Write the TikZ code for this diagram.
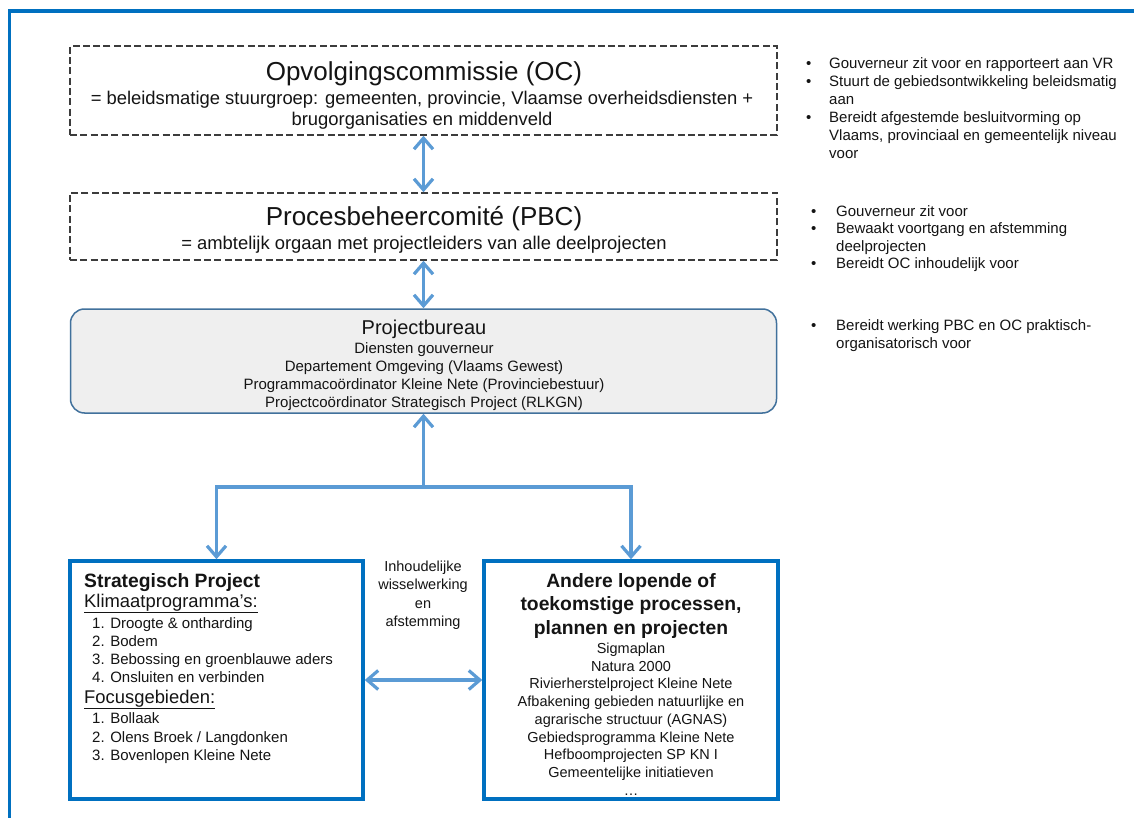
\documentclass[tikz,border=0pt]{standalone}
\usepackage{fontspec}
\setmainfont{Liberation Sans}
\usetikzlibrary{arrows.meta}
\definecolor{frameblue}{RGB}{0,112,192}
\definecolor{arrowblue}{RGB}{91,155,213}
\definecolor{pbborder}{RGB}{65,113,156}
\definecolor{pbfill}{RGB}{239,239,239}
\definecolor{dashgray}{RGB}{60,60,60}
\definecolor{txtgray}{RGB}{20,20,20}
\newcommand\bitemA[1]{\makebox[23pt][l]{\textbullet}#1}
\newcommand\bitemB[1]{\makebox[25pt][l]{\textbullet}#1}
\begin{document}
\begin{tikzpicture}[x=1pt,y=-1pt,
  dashbox/.style={draw=dashgray, line width=1.5pt, dash pattern=on 7pt off 3.3pt, minimum width=707pt, inner sep=0pt},
  pbbox/.style={draw=pbborder, fill=pbfill, line width=1.5pt, rounded corners=14pt, inner sep=0pt, minimum width=706pt, minimum height=104pt},
  bluebox/.style={draw=frameblue, line width=3.5pt, inner sep=0pt, minimum width=294pt, minimum height=238pt},
  conn/.style={draw=arrowblue, line width=3.2pt},
  tipboth/.style={conn, {Straight Barb[length=11pt,width=19pt]}-{Straight Barb[length=11pt,width=19pt]}},
  tipend/.style={conn, -{Straight Barb[length=11pt,width=19pt]}},
  txt/.style={inner sep=0pt, align=center, text=txtgray},
  bigtitle/.style={txt, font=\fontsize{26}{30}\selectfont},
  subtxt/.style={txt, font=\fontsize{18.4}{21}\selectfont},
  pbtitle/.style={txt, font=\fontsize{20}{24}\selectfont},
  pbitems/.style={txt, font=\fontsize{15}{18}\selectfont},
  sidetxt/.style={inner sep=0pt, align=left, text=txtgray, anchor=west},
  boldtitle/.style={txt, font=\fontsize{19.3}{23.5}\selectfont\bfseries},
  sphead/.style={inner sep=0pt, anchor=west, text=txtgray, font=\fontsize{18.4}{22}\selectfont},
  spitems/.style={inner sep=0pt, anchor=west, align=left, text=txtgray},
  midlabel/.style={txt, font=\fontsize{14.5}{18.5}\selectfont}
]
\useasboundingbox[fill=white] (0,0) rectangle (1134,818);
% outer frame
\draw[frameblue, line width=3.5pt] (9.5,818) -- (9.5,11) -- (1134,11);

% boxes
\node[dashbox, minimum height=89pt] (oc) at (423.5,90.5) {};
\node[dashbox, minimum height=67pt] (pbc) at (423.5,226.5) {};
\node[pbbox] (pb) at (423.5,361) {};
\node[bluebox, minimum width=293pt] (sp) at (216.5,680) {};
\node[bluebox] (ap) at (631,680) {};

% OC text
\node[bigtitle] (oct) at (424,74) {Opvolgingscommissie (OC)};
\node[subtxt] (ocs) at (422,110.5) {= beleidsmatige stuurgroep: gemeenten, provincie, Vlaamse overheidsdiensten +\\brugorganisaties en middenveld};
% PBC text
\node[bigtitle] (pbct) at (424,219) {Procesbeheercomité (PBC)};
\node[subtxt] (pbcs) at (424,245) {= ambtelijk orgaan met projectleiders van alle deelprojecten};
% Projectbureau text
\node[pbtitle] (pbt) at (424,329) {Projectbureau};
\node[pbitems] (pbi) at (424,376.5) {Diensten gouverneur\\Departement Omgeving (Vlaams Gewest)\\Programmacoördinator Kleine Nete (Provinciebestuur)\\Projectcoördinator Strategisch Project (RLKGN)};

% Strategisch project text
\node[boldtitle, anchor=west] (spt) at (84,582.5) {Strategisch Project};
\node[sphead] (spk) at (84,603.5) {\underline{Klimaatprogramma's:}};
\node[spitems, font=\fontsize{15}{18}\selectfont] (spkl) at (92,650.5) {1. Droogte \& ontharding\\2. Bodem\\3. Bebossing en groenblauwe aders\\4. Onsluiten en verbinden};
\node[sphead] (spf) at (84,699.5) {\underline{Focusgebieden:}};
\node[spitems, font=\fontsize{15}{18.5}\selectfont] (spfl) at (92,738.5) {1. Bollaak\\2. Olens Broek / Langdonken\\3. Bovenlopen Kleine Nete};

% Andere text
\node[boldtitle] (apt) at (631,606) {Andere lopende of\\toekomstige processen,\\plannen en projecten};
\node[txt, font=\fontsize{14.5}{17.75}\selectfont] (apl) at (631,719) {Sigmaplan\\Natura 2000\\Rivierherstelproject Kleine Nete\\Afbakening gebieden natuurlijke en\\agrarische structuur (AGNAS)\\Gebiedsprogramma Kleine Nete\\Hefboomprojecten SP KN I\\Gemeentelijke initiatieven\\\dots};

% middle label
\node[midlabel] (mid) at (423,595) {Inhoudelijke\\wisselwerking\\en\\afstemming};

% side notes
\node[sidetxt, font=\fontsize{15}{18}\selectfont] (n1) at (806,108) {\bitemA{Gouverneur zit voor en rapporteert aan VR}\\\bitemA{Stuurt de gebiedsontwikkeling beleidsmatig}\\\hspace*{23pt}aan\\\bitemA{Bereidt afgestemde besluitvorming op}\\\hspace*{23pt}Vlaams, provinciaal en gemeentelijk niveau\\\hspace*{23pt}voor};
\node[sidetxt, font=\fontsize{15}{17.3}\selectfont] (n2) at (811,238.5) {\bitemB{Gouverneur zit voor}\\\bitemB{Bewaakt voortgang en afstemming}\\\hspace*{25pt}deelprojecten\\\bitemB{Bereidt OC inhoudelijk voor}};
\node[sidetxt, font=\fontsize{15}{17.3}\selectfont] (n3) at (811,335.5) {\bitemB{Bereidt werking PBC en OC praktisch-}\\\hspace*{25pt}organisatorisch voor};

% connectors
\coordinate (j) at (423.5,487);
\draw[tipboth] (oc.south) -- (pbc.north);
\draw[tipboth] (pbc.south) -- (pb.north);
\draw[tipend] (j) -- (pb.south);
\draw[tipend] (j) -| (sp.north);
\draw[tipend] (j) -| (ap.north);
\draw[tipboth] (sp.east) -- (ap.west);
\end{tikzpicture}
\end{document}
